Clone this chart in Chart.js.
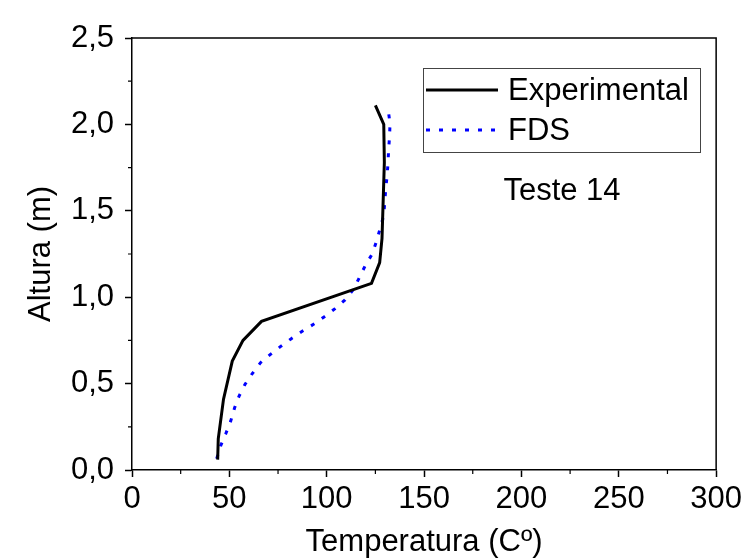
<!DOCTYPE html>
<html>
<head>
<meta charset="utf-8">
<script src="https://cdn.jsdelivr.net/npm/chart.js@4"></script>
<style>
html,body{margin:0;padding:0;background:#fff;}
#wrap{width:746px;height:560px;position:relative;}
</style>
</head>
<body>
<div id="wrap"><canvas id="c" width="746" height="560"></canvas></div>
<script>
// ---- data ----
const expTemp   = [44, 44.3, 47, 51.5, 57, 66.5, 123, 127.2, 128.4, 129.6, 129.3, 125];
const expHeight = [0.06, 0.18, 0.41, 0.63, 0.75, 0.86, 1.08, 1.2, 1.34, 1.78, 2.0, 2.11];

const fdsTemp   = [43.5, 45.6, 48.2, 50.7, 52.7, 55, 58, 61.7, 66, 71.1, 76.2, 81.8, 87.6, 93.2, 98.8, 104.3, 109.4, 113.8, 117, 119.9, 123.3, 125.6, 127.4, 129.3, 129.8, 130.3, 131, 131.5, 131.8, 132.3, 132.5, 131.5];
const fdsHeight = [0.065, 0.142, 0.211, 0.283, 0.36, 0.428, 0.495, 0.557, 0.621, 0.669, 0.714, 0.76, 0.804, 0.843, 0.887, 0.934, 0.984, 1.046, 1.119, 1.185, 1.249, 1.324, 1.397, 1.474, 1.548, 1.625, 1.702, 1.78, 1.857, 1.934, 2.007, 2.089];

const seriesNames = ['Experimental', 'FDS'];
const xTitle = 'Temperatura (Cº)';
const yTitle = 'Altura (m)';
const annotation = 'Teste 14';
const xMajorTicks = [0, 50, 100, 150, 200, 250, 300];
const xMinorTicks = [25, 75, 125, 175, 225, 275];
const yMajorTicks = [0, 0.5, 1.0, 1.5, 2.0, 2.5];
const yMinorTicks = [0.25, 0.75, 1.25, 1.75, 2.25];

const FONT = '"Liberation Sans", Arial, sans-serif';
const FS = 31;

const toPts = (xs, ys) => xs.map((x, i) => ({x: x, y: ys[i]}));

const decor = {
  id: 'decor',
  afterDraw(chart) {
    const ctx = chart.ctx;
    const a = chart.chartArea;
    const xs = chart.scales.x, ys = chart.scales.y;
    ctx.save();
    // frame top/right
    ctx.strokeStyle = '#000';
    ctx.lineWidth = 1.5;
    ctx.beginPath();
    ctx.moveTo(a.left, a.top); ctx.lineTo(a.right, a.top); ctx.lineTo(a.right, a.bottom);
    ctx.stroke();
    // minor ticks
    ctx.lineWidth = 1.2;
    ctx.beginPath();
    xMinorTicks.forEach(v => { const p = xs.getPixelForValue(v); ctx.moveTo(p, a.bottom); ctx.lineTo(p, a.bottom + 4); });
    yMinorTicks.forEach(v => { const p = ys.getPixelForValue(v); ctx.moveTo(a.left, p); ctx.lineTo(a.left - 4, p); });
    ctx.stroke();
    // legend
    const lx = 423, ly = 68, lw = 277, lh = 84;
    ctx.lineWidth = 1;
    ctx.strokeStyle = '#444';
    ctx.strokeRect(lx + 0.5, ly + 0.5, lw, lh);
    ctx.font = FS + 'px ' + FONT;
    ctx.fillStyle = '#000';
    ctx.textBaseline = 'middle';
    ctx.textAlign = 'left';
    chart.data.datasets.forEach((ds, i) => {
      const yy = ly + 22 + i * 40;
      ctx.strokeStyle = ds.borderColor;
      ctx.lineWidth = ds.borderWidth;
      ctx.setLineDash(ds.borderDash || []);
      ctx.beginPath(); ctx.moveTo(lx + 3, yy); ctx.lineTo(lx + 75, yy); ctx.stroke();
      ctx.setLineDash([]);
      ctx.fillText(ds.label, lx + 85, yy + 1);
    });
    // annotation
    ctx.textAlign = 'center';
    ctx.fillText(annotation, 562, 191);
    ctx.restore();
  }
};

new Chart(document.getElementById('c'), {
  type: 'line',
  data: {
    datasets: [
      { label: seriesNames[0], data: toPts(expTemp, expHeight), borderColor: '#000000', borderWidth: 3, pointRadius: 0, tension: 0, fill: false },
      { label: seriesNames[1], data: toPts(fdsTemp, fdsHeight), borderColor: '#0000ff', borderWidth: 3, borderDash: [4, 9], pointRadius: 0, tension: 0, fill: false }
    ]
  },
  options: {
    responsive: false,
    animation: false,
    layout: { padding: { top: 38, right: 23, left: 0, bottom: 0 } },
    plugins: { legend: { display: false }, tooltip: { enabled: false } },
    scales: {
      x: {
        type: 'linear', min: 0, max: 300,
        afterBuildTicks: s => { s.ticks = xMajorTicks.map(v => ({value: v})); },
        afterFit: s => { s.height = 90; },
        grid: { drawOnChartArea: false, drawTicks: true, tickLength: 7, tickColor: '#000', tickWidth: 1.5 },
        border: { display: true, color: '#000', width: 1.5 },
        ticks: { color: '#000', font: { family: FONT, size: FS }, padding: 4, maxRotation: 0, callback: v => String(v) },
        title: { display: true, text: xTitle, color: '#000', font: { family: FONT, size: FS, lineHeight: 1.1 }, padding: { top: 0, bottom: 0 } }
      },
      y: {
        type: 'linear', min: 0, max: 2.5,
        afterBuildTicks: s => { s.ticks = yMajorTicks.map(v => ({value: v})); },
        afterFit: s => { s.width = 132; },
        grid: { drawOnChartArea: false, drawTicks: true, tickLength: 7, tickColor: '#000', tickWidth: 1.5 },
        border: { display: true, color: '#000', width: 1.5 },
        ticks: { color: '#000', font: { family: FONT, size: FS }, padding: 11, callback: v => v.toFixed(1).replace('.', ',') },
        title: { display: true, text: yTitle, color: '#000', font: { family: FONT, size: FS }, padding: { top: 23, bottom: 0 } }
      }
    }
  },
  plugins: [decor]
});
</script>
</body>
</html>
